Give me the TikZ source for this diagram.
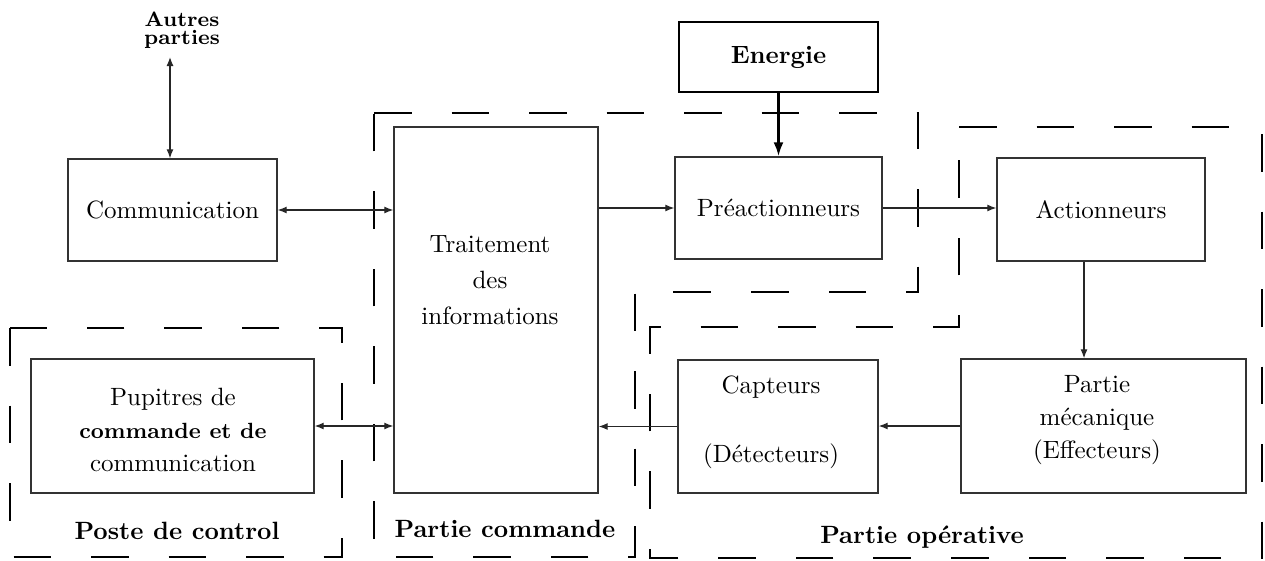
\documentclass[tikz,border=0pt]{standalone}
\usetikzlibrary{arrows.meta}
\begin{document}
\begin{tikzpicture}[x=0.4pt,y=-0.4pt,
  box/.style={draw=black!80,line width=0.55pt,inner sep=0pt},
  txt/.style={align=center,inner sep=0pt,font=\fontsize{10}{13.2}\selectfont},
  bold/.style={inner sep=0pt,font=\fontsize{10}{12}\selectfont\bfseries},
  zone/.style={draw=black,line width=1.1pt,dash pattern=on 15pt off 16pt},
  arrowline/.style={draw=black!85,line width=0.5pt,-{Latex[length=3.6pt,width=2.8pt]}},
  biarrow/.style={draw=black!85,line width=0.5pt,{Latex[length=3.6pt,width=2.8pt]}-{Latex[length=3.6pt,width=2.8pt]}},
  thickarrow/.style={draw=black,line width=1pt,-{Latex[length=5.6pt,width=4pt]}}]
\useasboundingbox (0,0) rectangle (1265,560);

% dashed zones
\draw[zone] (374,113) -- (918,113) -- (918,292) -- (635,292) -- (635,557) -- (374,557) -- cycle;
\draw[zone] (959,127) -- (1262,127) -- (1262,558) -- (650,558) -- (650,327) -- (959,327) -- cycle;
\draw[zone] (10,328) rectangle (342,557);

% blocks
\node[box,minimum width=83.6pt,minimum height=40.8pt,txt] (comm) at (172.5,210) {Communication};
\node[box,minimum width=81.6pt,minimum height=146.4pt] (trait) at (496,310) {};
\node[txt] (traittxt) at (490,280) {Traitement\\[1.2pt]des\\[1.2pt]informations};
\node[draw=black,line width=1pt,minimum width=79.6pt,minimum height=28pt,bold] (energie) at (778.5,57) {Energie};
\node[box,minimum width=82.8pt,minimum height=40.8pt,txt] (pre) at (778.5,208) {Préactionneurs};
\node[box,minimum width=83.2pt,minimum height=41.2pt,txt] (act) at (1101,209.5) {Actionneurs};
\node[box,minimum width=113.2pt,minimum height=53.6pt] (pup) at (172.5,426) {};
\node[txt] (puptxt) at (173,430) {Pupitres de\\{\fontsize{8.8}{10}\selectfont\bfseries commande et de}\\communication};
\node[box,minimum width=80pt,minimum height=53.2pt] (capt) at (778,426.5) {};
\node[txt] (capttxt) at (771,422.5) {Capteurs\\[14.4pt](Détecteurs)};
\node[box,minimum width=114pt,minimum height=53.6pt] (meca) at (1103.5,426) {};
\node[txt] (mecatxt) at (1097,420) {Partie\\mécanique\\(Effecteurs)};
\node[align=center,inner sep=0pt,font=\fontsize{8.3}{7.2}\selectfont\bfseries] (autres) at (182,30) {Autres\\parties};
\coordinate (autresend) at (170,57);

% zone titles
\node[bold] (poste) at (177,531) {Poste de control};
\node[bold] (pcom) at (505,529) {Partie commande};
\node[bold] (pop) at (922,537) {Partie opérative};

% links
\draw[biarrow] (autresend) -- (autresend |- comm.north);
\draw[biarrow] (comm.east) -- (comm.east -| trait.west);
\draw[arrowline] (trait.east |- pre.west) -- (pre.west);
\draw[thickarrow] (energie.south) -- (pre.north);
\draw[arrowline] (pre.east) -- (pre.east -| act.west);
\draw[arrowline] ([xshift=-6.8pt]act.south) -- ([xshift=-6.8pt]act.south |- meca.north);
\draw[arrowline] (meca.west) -- (meca.west -| capt.east);
\draw[arrowline] (capt.west) -- (capt.west -| trait.east);
\draw[biarrow] (pup.east) -- (pup.east -| trait.west);
\end{tikzpicture}
\end{document}
